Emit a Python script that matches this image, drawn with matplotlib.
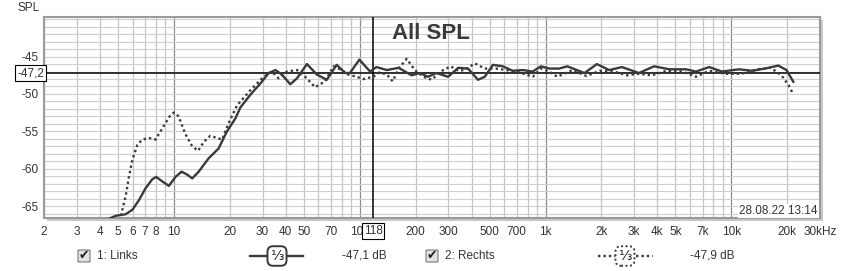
import matplotlib
matplotlib.use("Agg")
import matplotlib.pyplot as plt
from matplotlib.patches import Rectangle, FancyBboxPatch

plt.rcParams['font.family'] = ['Liberation Sans', 'DejaVu Sans']

# 1: Links (solid)
links_f = [4.2, 4.87, 5.5, 5.98, 6.49, 7.05, 7.66, 8.04, 8.66, 9.4, 10.2, 11.0, 11.8, 12.55,
           13.6, 15.4, 17.4, 19.3, 21.4, 22.8, 25.8, 29.2, 32.4, 35.2, 38.1, 42.3, 46.0,
           52.0, 58.8, 66.5, 75.2, 83.5, 88.6, 99.6, 113.7, 123, 140, 162, 190, 211, 233,
           259, 299, 339, 383, 433, 471, 521, 589, 666, 753, 853, 944, 1046, 1184, 1310,
           1620, 1890, 2200, 2580, 3180, 3840, 4640, 5700, 6450, 7600, 8900, 11000, 12900,
           15200, 17900, 19800, 21600]
links_db = [-67.0, -66.3, -66.1, -65.5, -64.2, -62.6, -61.4, -61.1, -61.7, -62.3, -61.1,
            -60.4, -60.8, -61.3, -60.4, -58.6, -57.3, -55.0, -53.3, -51.8, -50.1, -48.6,
            -47.2, -46.8, -47.4, -48.7, -47.9, -46.0, -47.4, -48.1, -46.1, -47.2, -47.2,
            -45.4, -47.0, -46.4, -46.8, -46.5, -47.5, -47.2, -47.7, -47.2, -47.7, -46.5,
            -46.6, -48.1, -47.7, -46.1, -46.3, -46.9, -46.8, -47.0, -46.3, -46.6, -46.6,
            -46.3, -47.2, -46.0, -46.8, -46.4, -47.2, -46.3, -46.7, -46.7, -47.0, -46.4,
            -47.0, -46.7, -46.9, -46.6, -46.2, -46.8, -48.4]

# 2: Rechts (dotted)
rechts_f = [5.1, 5.5, 5.73, 5.98, 6.36, 6.77, 7.34, 7.97, 8.66, 9.6, 10.0, 10.6, 11.5, 12.55,
            13.5, 14.5, 15.7, 17.1, 18.2, 19.7, 21.9, 25.8, 30.4, 33.7, 36.6, 40.6, 46.0,
            50.9, 57.6, 65.2, 72.3, 80.1, 86.8, 96.3, 104.5, 118.3, 128, 140, 150.5, 162,
            179, 198, 220, 244, 272, 309, 339, 368, 416, 471, 542, 613, 696, 787, 853, 944,
            1046, 1158, 1283, 1400, 1660, 1960, 2260, 2740, 3180, 3750, 4470, 5450, 6450,
            7600, 9300, 11300, 13900, 16300, 18600, 20300, 21600]
rechts_db = [-67.0, -63.7, -61.1, -58.8, -56.8, -56.1, -55.9, -56.1, -54.6, -52.8, -52.5,
             -53.0, -55.3, -57.0, -57.6, -56.4, -55.6, -55.9, -56.1, -53.9, -51.5, -49.5,
             -47.7, -47.0, -47.9, -47.0, -46.8, -47.7, -49.1, -48.3, -46.3, -46.8, -47.4,
             -47.7, -48.0, -47.7, -47.1, -47.4, -48.3, -46.6, -45.3, -46.8, -47.7, -48.1,
             -47.0, -46.3, -46.9, -46.8, -45.9, -46.6, -46.6, -46.8, -47.0, -47.4, -47.7,
             -46.6, -47.0, -47.7, -47.2, -46.8, -47.6, -46.9, -46.9, -47.5, -47.3, -47.5,
             -46.9, -47.0, -47.7, -46.9, -47.3, -47.3, -46.7, -46.5, -47.5, -48.8, -50.1]

x_ticks = [2, 3, 4, 5, 6, 7, 8, 10, 20, 30, 40, 50, 70, 100, 200, 300, 500, 700,
           1000, 2000, 3000, 4000, 5000, 7000, 10000, 20000, 30000]
x_labels = ['2', '3', '4', '5', '6', '7', '8', '10', '20', '30', '40', '50', '70', '100',
            '200', '300', '500', '700', '1k', '2k', '3k', '4k', '5k', '7k', '10k', '20k',
            '30kHz']
y_ticks = [-45, -50, -55, -60, -65]
cursor_f = 118
cursor_db = -47.2

W, H = 842, 271
fig = plt.figure(figsize=(W / 100, H / 100), dpi=100)
fig.patch.set_facecolor('white')

def fx(px):
    return px / W

def fy(py):
    return 1 - py / H

left, right, top, bottom = 44, 820, 17, 218
# shadow behind the plot frame
fig.patches.append(Rectangle((fx(left + 3), fy(bottom + 3)), fx(right - left), (bottom - top) / H,
                             transform=fig.transFigure, facecolor='#c8c8c8', edgecolor='none', zorder=-5))
ax = fig.add_axes([fx(left), fy(bottom), fx(right - left), (bottom - top) / H])
ax.set_zorder(2)
ax.set_facecolor('white')
ax.set_xscale('log')
ax.set_xlim(2, 30000)
ax.set_ylim(-66.6, -39.7)

# grid
for dec in [1, 10, 100, 1000, 10000]:
    for m in range(1, 10):
        f = m * dec
        if 2 <= f <= 30000:
            ax.axvline(f, color='#8c8c8c' if m == 1 else '#c4c4c4', lw=0.9, zorder=1)
for v in range(-66, -39):
    ax.axhline(v, color='#cfcfcf', lw=0.8, zorder=1)

ax.plot(links_f, links_db, color='#3a3a3a', lw=1.7, zorder=4,
        solid_capstyle='round', solid_joinstyle='round')
ax.plot(rechts_f, rechts_db, color='#3a3a3a', lw=1.7, ls=(0, (1, 1.3)), zorder=4)

ax.axhline(cursor_db, color='black', lw=1.1, zorder=3)
ax.axvline(cursor_f, color='black', lw=1.1, zorder=3)

ax.set_xticks(x_ticks)
ax.set_xticklabels(x_labels)
ax.xaxis.set_minor_locator(matplotlib.ticker.NullLocator())
ax.set_yticks(y_ticks)
ax.set_yticklabels([str(t) for t in y_ticks])
ax.tick_params(axis='both', length=0, labelsize=8.5, colors='#333333')
ax.tick_params(axis='x', pad=6)
ax.tick_params(axis='y', pad=4)
for s in ax.spines.values():
    s.set_color('#9a9a9a')
    s.set_linewidth(1.5)

# cursor value boxes
ax.text(0, cursor_db, '-47,2', transform=ax.get_yaxis_transform(), ha='right', va='center',
        fontsize=8.5, color='#333333',
        bbox=dict(boxstyle='square,pad=0.15', fc='white', ec='black', lw=0.8))
ax.text(cursor_f, -0.065, '118', transform=ax.get_xaxis_transform(), ha='center', va='center',
        fontsize=8.5, color='#333333', zorder=10, clip_on=False,
        bbox=dict(boxstyle='square,pad=0.15', fc='white', ec='black', lw=0.8))

ax.text(0.499, 0.92, 'All SPL', transform=ax.transAxes, ha='center', va='center',
        fontsize=16, fontweight='bold', color='#3a3a3a', zorder=6)
ax.text(0.997, 0.035, '28.08.22 13:14', transform=ax.transAxes, ha='right', va='center',
        fontsize=8.5, color='#333333', zorder=6,
        bbox=dict(boxstyle='square,pad=0.1', fc='white', ec='none'))
fig.text(fx(17), fy(8), 'SPL', ha='left', va='center', fontsize=8.5, color='#333333')

# legend row
ly = 256
def checkbox(px):
    fig.patches.append(FancyBboxPatch((fx(px), fy(ly + 6)), fx(12), 12 / H,
                                      boxstyle='round,pad=0,rounding_size=0.002',
                                      transform=fig.transFigure, fc='#e2e2e2', ec='#7a7a7a', lw=0.8))
    fig.text(fx(px + 6), fy(ly), '\u2714', family='DejaVu Sans', ha='center', va='center',
             fontsize=9, color='#222222')

checkbox(78)
fig.text(fx(97), fy(ly), '1: Links', ha='left', va='center', fontsize=8.5, color='#333333')
fig.lines.append(plt.Line2D([fx(250), fx(303)], [fy(ly), fy(ly)], transform=fig.transFigure,
                            color='#3a3a3a', lw=1.7))
fig.text(fx(277), fy(ly), '\u2153', family='DejaVu Sans', ha='center', va='center', fontsize=10,
         color='#222222', bbox=dict(boxstyle='round,pad=0.2,rounding_size=0.4', fc='white',
                                    ec='#3a3a3a', lw=1.4))
fig.text(fx(342), fy(ly), '-47,1 dB', ha='left', va='center', fontsize=8.5, color='#333333')

checkbox(426)
fig.text(fx(445), fy(ly), '2: Rechts', ha='left', va='center', fontsize=8.5, color='#333333')
fig.lines.append(plt.Line2D([fx(598), fx(653)], [fy(ly), fy(ly)], transform=fig.transFigure,
                            color='#3a3a3a', lw=1.7, ls=(0, (1, 1.3))))
fig.text(fx(625), fy(ly), '\u2153', family='DejaVu Sans', ha='center', va='center', fontsize=10,
         color='#222222', bbox=dict(boxstyle='round,pad=0.2,rounding_size=0.4', fc='white',
                                    ec='#3a3a3a', lw=1.4, ls=(0, (1, 1.3))))
fig.text(fx(690), fy(ly), '-47,9 dB', ha='left', va='center', fontsize=8.5, color='#333333')

fig.savefig('out.png', dpi=100)
